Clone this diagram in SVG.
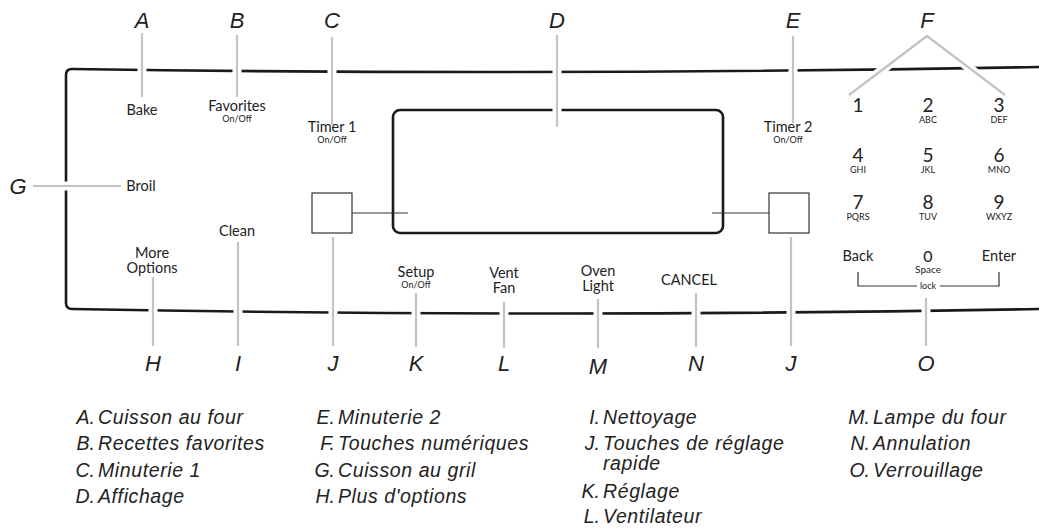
<svg xmlns="http://www.w3.org/2000/svg" width="1039" height="529" viewBox="0 0 1039 529">
<style>
.panel{fill:none;stroke:#1a1a1a;stroke-width:2.6;stroke-linejoin:round}
.thin{fill:none;stroke:#333;stroke-width:1.2}
.halo{stroke:#fff;stroke-width:9;fill:none}
.lead{stroke:#c3c3c8;stroke-width:2.2;fill:none}
.key{font-family:Lato,"Open Sans",sans-serif;font-size:14.5px;fill:#222;text-anchor:middle}
.sub{font-family:Lato,"Open Sans",sans-serif;font-size:9px;fill:#222;text-anchor:middle}
.dig{font-family:Lato,"Open Sans",sans-serif;font-size:19px;fill:#222;text-anchor:middle}
.let{font-family:"Liberation Sans",Arial,sans-serif;font-style:italic;font-size:22px;fill:#222;text-anchor:middle}
.leg{font-family:"Liberation Sans",Arial,sans-serif;font-style:italic;font-size:19.5px;fill:#222;letter-spacing:0.6px}
.legk{font-family:"Liberation Sans",Arial,sans-serif;font-style:italic;font-size:19.5px;fill:#222;text-anchor:end}
</style>
<g id="panel">
<path class="panel" d="M1039,67 Q550,76 72,69 Q66,69 66,75 L66,303 Q66,309 72,309 Q550,318 1039,309"/>
</g>
<g id="display">
<rect class="panel" x="393" y="110" width="330" height="123" rx="7"/>
</g>
<g id="quick-left">
<rect class="thin" x="312" y="193" width="40" height="40"/>
<line class="thin" x1="352" y1="213" x2="408" y2="213"/>
</g>
<g id="quick-right">
<rect class="thin" x="769" y="193" width="40" height="40"/>
<line class="thin" x1="712" y1="213" x2="769" y2="213"/>
</g>
<g id="connectors">
<g class="halo">
<line x1="142" y1="33" x2="142" y2="97"/>
<line x1="237" y1="35" x2="237" y2="97"/>
<line x1="332" y1="37" x2="332" y2="125"/>
<line x1="557" y1="35" x2="557" y2="127"/>
<line x1="793" y1="36" x2="793" y2="123"/>
<polyline points="849,95 927,36 1005,95"/>
<line x1="33" y1="186" x2="121" y2="186"/>
<line x1="153" y1="277" x2="153" y2="346"/>
<line x1="238" y1="242" x2="238" y2="346"/>
<line x1="333" y1="237" x2="333" y2="346"/>
<line x1="416" y1="293" x2="416" y2="347"/>
<line x1="504" y1="302" x2="504" y2="348"/>
<line x1="598" y1="299" x2="598" y2="348"/>
<line x1="696" y1="293" x2="696" y2="347"/>
<line x1="791" y1="237" x2="791" y2="346"/>
<line x1="926" y1="298" x2="926" y2="346"/>
</g>
<g class="lead">
<line x1="142" y1="33" x2="142" y2="97"/>
<line x1="237" y1="35" x2="237" y2="97"/>
<line x1="332" y1="37" x2="332" y2="125"/>
<line x1="557" y1="35" x2="557" y2="127"/>
<line x1="793" y1="36" x2="793" y2="123"/>
<polyline points="849,95 927,36 1005,95"/>
<line x1="33" y1="186" x2="121" y2="186"/>
<line x1="153" y1="277" x2="153" y2="346"/>
<line x1="238" y1="242" x2="238" y2="346"/>
<line x1="333" y1="237" x2="333" y2="346"/>
<line x1="416" y1="293" x2="416" y2="347"/>
<line x1="504" y1="302" x2="504" y2="348"/>
<line x1="598" y1="299" x2="598" y2="348"/>
<line x1="696" y1="293" x2="696" y2="347"/>
<line x1="791" y1="237" x2="791" y2="346"/>
<line x1="926" y1="298" x2="926" y2="346"/>
</g>
</g>
<g id="bake"><text class="key" x="142" y="115">Bake</text></g>
<g id="favorites"><text class="key" x="237" y="111">Favorites</text><text class="sub" x="237" y="122">On/Off</text></g>
<g id="timer1"><text class="key" x="332" y="132">Timer 1</text><text class="sub" x="332" y="143">On/Off</text></g>
<g id="timer2"><text class="key" x="788" y="132">Timer 2</text><text class="sub" x="788" y="143">On/Off</text></g>
<g id="broil"><text class="key" x="141" y="191">Broil</text></g>
<g id="clean"><text class="key" x="237" y="236">Clean</text></g>
<g id="more-options"><text class="key" x="152" y="258">More</text><text class="key" x="152" y="273">Options</text></g>
<g id="setup"><text class="key" x="416" y="277">Setup</text><text class="sub" x="416" y="288">On/Off</text></g>
<g id="vent-fan"><text class="key" x="504" y="278">Vent</text><text class="key" x="504" y="293">Fan</text></g>
<g id="oven-light"><text class="key" x="598" y="276">Oven</text><text class="key" x="598" y="291">Light</text></g>
<g id="cancel"><text class="key" x="689" y="285">CANCEL</text></g>
<g id="keypad">
<text class="dig" x="858" y="112">1</text>
<text class="dig" x="928" y="112">2</text><text class="sub" x="928" y="123">ABC</text>
<text class="dig" x="999" y="112">3</text><text class="sub" x="999" y="123">DEF</text>
<text class="dig" x="858" y="162">4</text><text class="sub" x="858" y="173">GHI</text>
<text class="dig" x="928" y="162">5</text><text class="sub" x="928" y="173">JKL</text>
<text class="dig" x="999" y="162">6</text><text class="sub" x="999" y="173">MNO</text>
<text class="dig" x="858" y="209">7</text><text class="sub" x="858" y="220">PQRS</text>
<text class="dig" x="928" y="209">8</text><text class="sub" x="928" y="220">TUV</text>
<text class="dig" x="999" y="209">9</text><text class="sub" x="999" y="220">WXYZ</text>
<text class="key" x="858" y="261">Back</text>
<text class="key" x="928" y="262" style="font-size:16px">0</text><text class="sub" x="928" y="273" style="font-size:10px">Space</text>
<text class="key" x="999" y="261">Enter</text>
<polyline class="thin" points="858,272 858,286 917,286"/>
<polyline class="thin" points="940,286 999,286 999,272"/>
<text class="sub" x="928" y="289">lock</text>
</g>
<g id="letters">
<text class="let" x="142" y="28">A</text>
<text class="let" x="237" y="28">B</text>
<text class="let" x="332" y="28">C</text>
<text class="let" x="557" y="28">D</text>
<text class="let" x="793" y="28">E</text>
<text class="let" x="927" y="28">F</text>
<text class="let" x="18" y="194">G</text>
<text class="let" x="153" y="371">H</text>
<text class="let" x="238" y="371">I</text>
<text class="let" x="333" y="371">J</text>
<text class="let" x="416" y="371">K</text>
<text class="let" x="504" y="371">L</text>
<text class="let" x="598" y="374">M</text>
<text class="let" x="696" y="371">N</text>
<text class="let" x="791" y="371">J</text>
<text class="let" x="926" y="371">O</text>
</g>
<g id="legend">
<text class="legk" x="95" y="424">A.</text><text class="leg" x="98" y="424">Cuisson au four</text>
<text class="legk" x="95" y="450">B.</text><text class="leg" x="98" y="450">Recettes favorites</text>
<text class="legk" x="95" y="477">C.</text><text class="leg" x="98" y="477">Minuterie 1</text>
<text class="legk" x="95" y="503">D.</text><text class="leg" x="98" y="503">Affichage</text>
<text class="legk" x="335" y="424">E.</text><text class="leg" x="338" y="424">Minuterie 2</text>
<text class="legk" x="335" y="450">F.</text><text class="leg" x="338" y="450">Touches numériques</text>
<text class="legk" x="335" y="477">G.</text><text class="leg" x="338" y="477">Cuisson au gril</text>
<text class="legk" x="335" y="503">H.</text><text class="leg" x="338" y="503">Plus d'options</text>
<text class="legk" x="600" y="424">I.</text><text class="leg" x="603" y="424">Nettoyage</text>
<text class="legk" x="600" y="450">J.</text><text class="leg" x="603" y="450">Touches de réglage</text>
<text class="leg" x="603" y="470">rapide</text>
<text class="legk" x="600" y="498">K.</text><text class="leg" x="603" y="498">Réglage</text>
<text class="legk" x="600" y="523">L.</text><text class="leg" x="603" y="523">Ventilateur</text>
<text class="legk" x="870" y="424">M.</text><text class="leg" x="873" y="424">Lampe du four</text>
<text class="legk" x="870" y="450">N.</text><text class="leg" x="873" y="450">Annulation</text>
<text class="legk" x="870" y="477">O.</text><text class="leg" x="873" y="477">Verrouillage</text>
</g>
</svg>
